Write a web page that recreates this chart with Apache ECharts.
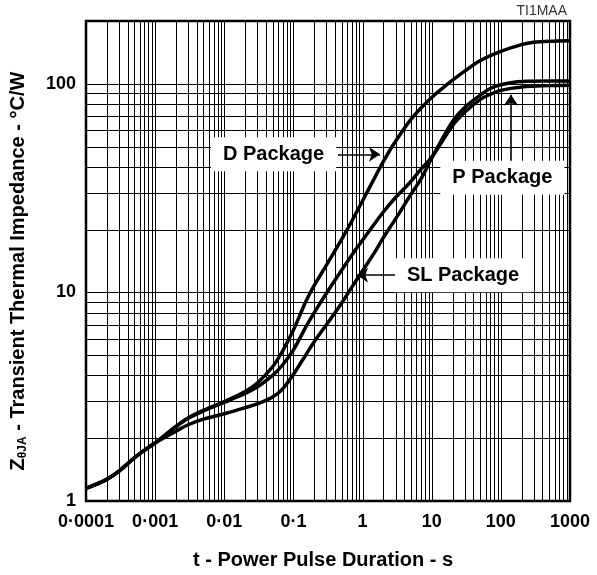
<!DOCTYPE html>
<html>
<head>
<meta charset="utf-8">
<script src="https://cdn.jsdelivr.net/npm/echarts@6/dist/echarts.min.js"></script>
<style>html,body{margin:0;padding:0;background:#fff}#c{width:597px;height:575px}</style>
</head>
<body>
<div id="c"></div>
<script>
// ---- data ----
const dPackageT = [1e-4, 2e-4, 3e-4, 5e-4, 7e-4, 1e-3, 2e-3, 3e-3, 5e-3, 0.01, 0.02, 0.03, 0.05, 0.07, 0.1, 0.15, 0.2, 0.3, 0.5, 0.7, 1, 1.5, 2, 3, 5, 7, 10, 20, 30, 50, 100, 200, 300, 500, 1000];
const dPackageZ = [1.15, 1.27, 1.39, 1.61, 1.75, 1.90, 2.28, 2.50, 2.72, 3.0, 3.35, 3.68, 4.4, 5.25, 6.6, 9.0, 10.8, 13.5, 18, 22, 27.5, 35.5, 42.5, 53, 67.5, 76.5, 86, 104, 115, 129, 143, 154, 158, 160, 161];

const pPackageT = [1e-4, 2e-4, 3e-4, 5e-4, 7e-4, 1e-3, 2e-3, 3e-3, 5e-3, 0.01, 0.02, 0.03, 0.05, 0.07, 0.1, 0.15, 0.2, 0.3, 0.5, 0.8, 1, 2, 3, 5, 7, 10, 20, 30, 50, 70, 100, 200, 500, 1000];
const pPackageZ = [1.15, 1.27, 1.39, 1.61, 1.75, 1.90, 2.27, 2.49, 2.70, 2.97, 3.28, 3.52, 4.0, 4.5, 5.3, 6.8, 8.0, 9.9, 12.8, 16.1, 17.8, 24.3, 28.5, 34, 39, 44.5, 63, 73, 84, 89, 93, 96.5, 98, 98.5];

const slPackageT = [1e-4, 2e-4, 3e-4, 5e-4, 7e-4, 1e-3, 2e-3, 3e-3, 5e-3, 0.01, 0.02, 0.03, 0.05, 0.07, 0.1, 0.15, 0.2, 0.3, 0.5, 0.7, 1, 1.5, 2, 3, 5, 7, 10, 20, 30, 50, 70, 100, 200, 500, 1000];
const slPackageZ = [1.15, 1.27, 1.39, 1.61, 1.75, 1.90, 2.16, 2.32, 2.47, 2.62, 2.80, 2.92, 3.15, 3.45, 4.05, 5.0, 5.8, 7.0, 8.9, 10.6, 12.7, 15.6, 18.3, 22.5, 29.5, 35, 44, 66, 77, 88, 95, 99, 102.5, 103, 103];

const xTickLabels = ['0·0001', '0·001', '0·01', '0·1', '1', '10', '100', '1000'];
const yTickLabels = ['1', '10', '100'];

const xTitle = 't - Power Pulse Duration - s';
const yTitle = '{m|Z}{s|θJA}{m| - Transient Thermal Impedance - °C/W}';
const codeText = 'TI1MAA';

// annotations: label anchor (data coords) and arrow from -> to (data coords)
const labelNames = ['D Package', 'P Package', 'SL Package'];
const labelAnchors = [[0.0516, 45.9], [105, 35.4], [28.4, 12.1]];
const arrowFrom = [[0.4415, 45.9], [140, 42.7], [3.26, 12.1]];
const arrowTo = [[1.787, 45.9], [140, 88.6], [0.832, 12.1]];

// ---- grid line values (log paper: 1..9 per decade) ----
const xMin = 1e-4, xMax = 1000, yMin = 1, yMax = 200;
const xGrid = [];
for (let n = -4; n <= 2; n++) for (let k = 1; k <= 9; k++) { if (!(n === -4 && k === 1)) xGrid.push(+(k * Math.pow(10, n)).toPrecision(6)); }
const yGrid = [];
for (let n = 0; n <= 1; n++) for (let k = 1; k <= 9; k++) { if (!(n === 0 && k === 1)) yGrid.push(k * Math.pow(10, n)); }
yGrid.push(100);

const FONT = "'Liberation Sans', Arial, Helvetica, sans-serif";
const zip = (a, b) => a.map((v, i) => [v, b[i]]);
const snap = v => Math.round(v) + 0.5;

const chart = echarts.init(document.getElementById('c'), null, { renderer: 'canvas' });

const curve = (name, t, z) => ({
  name, type: 'line', data: zip(t, z), smooth: 0.35, showSymbol: false, z: 4,
  lineStyle: { color: '#000', width: 3.5 }, itemStyle: { color: '#000' }, emphasis: { disabled: true }, silent: true, animation: false
});

chart.setOption({
  animation: false,
  backgroundColor: '#fff',
  grid: { left: 86, top: 21, right: 27, bottom: 72, show: true, borderColor: '#000', borderWidth: 2.5, backgroundColor: '#fff' },
  xAxis: {
    type: 'log', logBase: 10, min: xMin, max: xMax,
    axisLine: { show: false }, axisTick: { show: false }, splitLine: { show: false }, minorSplitLine: { show: false },
    axisLabel: {
      margin: 12, color: '#000', fontFamily: FONT, fontWeight: 'bold', fontSize: 18,
      formatter: v => { const i = Math.round(Math.log10(v)) + 4; return xTickLabels[i] || ''; }
    },
    name: xTitle, nameLocation: 'middle', nameGap: 49,
    nameTextStyle: { color: '#000', fontFamily: FONT, fontWeight: 'bold', fontSize: 20, padding: [0, 10, 0, 0] }
  },
  yAxis: {
    type: 'log', logBase: 10, min: yMin, max: yMax,
    axisLine: { show: false }, axisTick: { show: false }, splitLine: { show: false }, minorSplitLine: { show: false },
    axisLabel: {
      margin: 10, color: '#000', fontFamily: FONT, fontWeight: 'bold', fontSize: 18,
      formatter: v => { const l = Math.log10(v); const i = Math.round(l); return Math.abs(l - i) < 1e-6 ? (yTickLabels[i] || '') : ''; }
    },
    name: yTitle, nameLocation: 'middle', nameGap: 57,
    nameTextStyle: {
      padding: [0, 20, 0, 0],
      rich: {
        m: { color: '#000', fontFamily: FONT, fontWeight: 'bold', fontSize: 20 },
        s: { color: '#000', fontFamily: FONT, fontWeight: 'bold', fontSize: 12, verticalAlign: 'bottom', padding: [9, 0, 0, 0] }
      }
    }
  },
  series: [
    {
      type: 'custom', z: 1, silent: true, animation: false, clip: false,
      data: xGrid.map(v => [v, yMin]),
      renderItem: (params, api) => {
        const v = api.value(0);
        const a = api.coord([v, yMin]), b = api.coord([v, yMax]);
        return { type: 'line', shape: { x1: snap(a[0]), y1: a[1], x2: snap(b[0]), y2: b[1] }, style: { stroke: '#000', lineWidth: 1 } };
      }
    },
    {
      type: 'custom', z: 1, silent: true, animation: false, clip: false,
      data: yGrid.map(v => [xMin, v]),
      renderItem: (params, api) => {
        const v = api.value(1);
        const a = api.coord([xMin, v]), b = api.coord([xMax, v]);
        return { type: 'line', shape: { x1: a[0], y1: snap(a[1]), x2: b[0], y2: snap(b[1]) }, style: { stroke: '#000', lineWidth: 1 } };
      }
    },
    curve('D Package', dPackageT, dPackageZ),
    curve('P Package', pPackageT, pPackageZ),
    curve('SL Package', slPackageT, slPackageZ),
    {
      type: 'line', data: [[xMin, yMin]], showSymbol: false, lineStyle: { opacity: 0 }, z: 6, silent: true,
      markLine: {
        silent: true, symbol: ['none', 'arrow'], symbolSize: 11, animation: false, label: { show: false }, emphasis: { disabled: true },
        lineStyle: { color: '#000', width: 1.6, type: 'solid' },
        data: arrowFrom.map((f, i) => [{ coord: f }, { coord: arrowTo[i] }])
      }
    }
  ]
});

function placeLabels() {
  const els = labelNames.map((txt, i) => {
    const p = chart.convertToPixel({ gridIndex: 0 }, labelAnchors[i]);
    return {
      type: 'text', x: p[0], y: p[1], z: 100, silent: true,
      style: {
        text: txt, fill: '#000', font: "bold 20px " + FONT, align: 'center', verticalAlign: 'middle',
        backgroundColor: '#fff', padding: [7, 12, 7, 12]
      }
    };
  });
  els.push({
    type: 'text', right: 30, top: 4, z: 100, silent: true,
    style: { text: codeText, fill: '#333', font: "14px " + FONT }
  });
  chart.setOption({ graphic: els });
}
placeLabels();
</script>
</body>
</html>
